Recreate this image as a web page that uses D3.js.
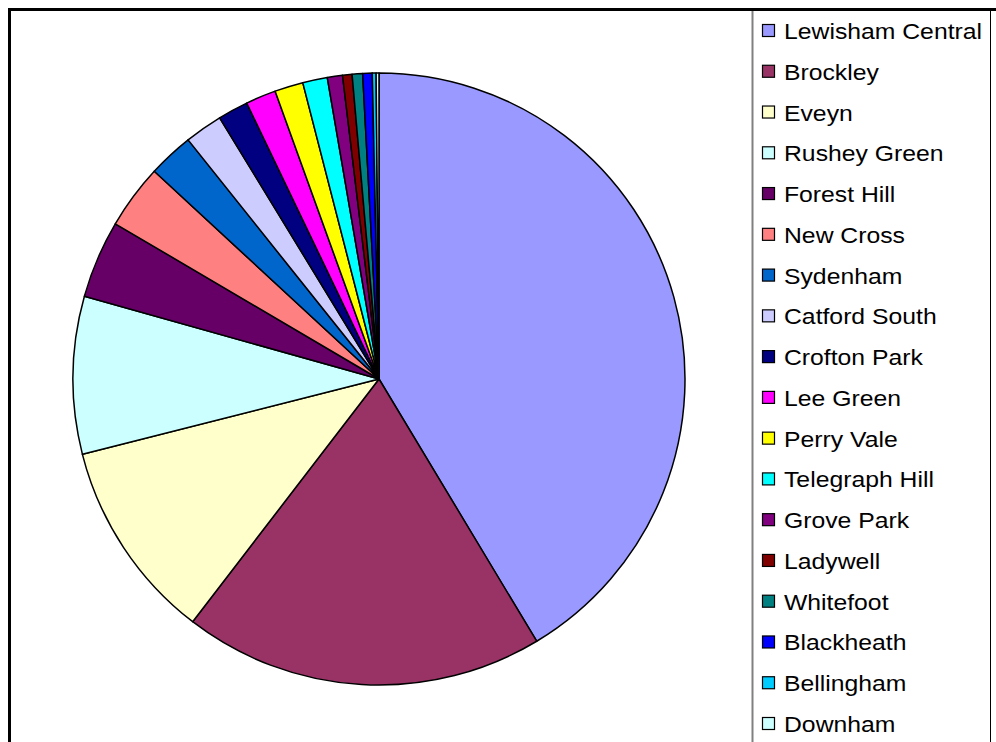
<!DOCTYPE html>
<html lang="en">
<head>
<meta charset="UTF-8">
<title>Lewisham wards pie</title>
<script src="https://d3js.org/d3.v7.min.js"></script>
<style>
  body { margin: 0; background: #fff; }
  svg { display: block; }
</style>
</head>
<body>
<div id="chart"></div>
<script>
// wards, in slice order (clockwise from 12 o'clock)
var wards = ["Lewisham Central", "Brockley", "Eveyn", "Rushey Green", "Forest Hill",
  "New Cross", "Sydenham", "Catford South", "Crofton Park", "Lee Green", "Perry Vale",
  "Telegraph Hill", "Grove Park", "Ladywell", "Whitefoot", "Blackheath", "Bellingham", "Downham"];
var shares = [41.3, 19.0, 10.6, 8.3, 4.1, 3.4, 2.4, 2.0, 1.6, 1.6, 1.5, 1.3, 0.8, 0.5, 0.55, 0.5, 0.2, 0.15];
var colours = ["#9999ff", "#993366", "#ffffcc", "#ccffff", "#660066", "#ff8080", "#0066cc",
  "#ccccff", "#000080", "#ff00ff", "#ffff00", "#00ffff", "#800080", "#800000", "#008080",
  "#0000ff", "#00ccff", "#ccffff"];

var W = 996, H = 742;
var svg = d3.select("#chart").append("svg").attr("width", W).attr("height", H);

// outer frame (top + left edge visible)
svg.append("line").attr("x1", 8).attr("x2", W).attr("y1", 9.5).attr("y2", 9.5)
  .attr("stroke", "#000").attr("stroke-width", 3);
svg.append("line").attr("x1", 9.5).attr("x2", 9.5).attr("y1", 8).attr("y2", H)
  .attr("stroke", "#000").attr("stroke-width", 3);

// pie
var cx = 379, cy = 379, r = 306;
var pie = d3.pie().sort(null).value(function(d) { return d; });
var arc = d3.arc().innerRadius(0).outerRadius(r);
var colour = d3.scaleOrdinal().domain(wards).range(colours);

var g = svg.append("g").attr("transform", "translate(" + cx + "," + cy + ")");
g.selectAll("path")
  .data(pie(shares))
  .enter().append("path")
    .attr("d", arc)
    .attr("fill", function(d, i) { return colour(wards[i]); })
    .attr("stroke", "#000")
    .attr("stroke-width", 1.5)
    .attr("stroke-linejoin", "round");

// legend box
var lg = svg.append("g");
lg.append("rect").attr("x", 752).attr("y", 11).attr("width", 239).attr("height", H)
  .attr("fill", "#fff").attr("stroke", "none");
lg.append("line").attr("x1", 752.5).attr("x2", 752.5).attr("y1", 11).attr("y2", H)
  .attr("stroke", "#808080").attr("stroke-width", 2);
lg.append("line").attr("x1", 990.5).attr("x2", 990.5).attr("y1", 11).attr("y2", H)
  .attr("stroke", "#000").attr("stroke-width", 1);

var rowY = d3.scalePoint().domain(wards).range([31, 724]);
var items = lg.selectAll("g.item").data(wards).enter().append("g")
  .attr("class", "item")
  .attr("transform", function(d) { return "translate(0," + rowY(d) + ")"; });
items.append("rect")
  .attr("x", 762.5).attr("y", -6.5).attr("width", 12).attr("height", 12)
  .attr("fill", function(d) { return colour(d); })
  .attr("stroke", "#000").attr("stroke-width", 1.2);
// text in the original is drawn a little wide, so stretch it sideways
items.append("text")
  .attr("transform", "translate(784,8) scale(1.125,1)")
  .attr("font-family", "'Liberation Sans', Arial, sans-serif")
  .attr("font-size", 22)
  .attr("fill", "#000")
  .text(function(d) { return d; });
</script>
</body>
</html>
